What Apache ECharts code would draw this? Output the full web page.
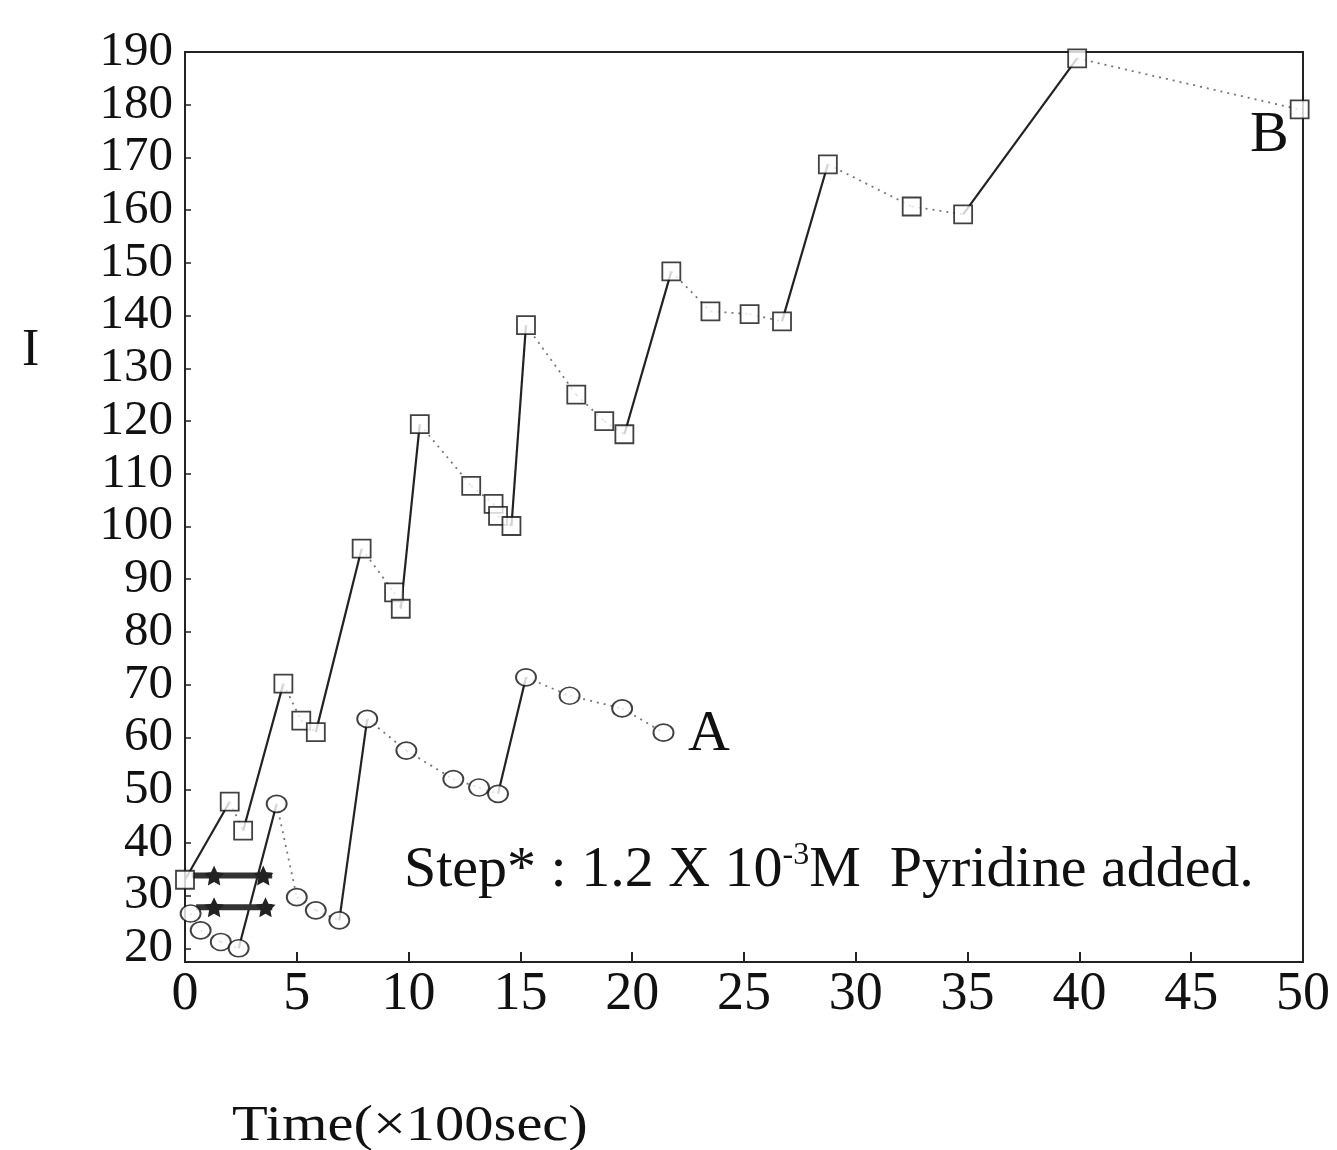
<!DOCTYPE html>
<html>
<head>
<meta charset="utf-8">
<script src="https://cdn.jsdelivr.net/npm/echarts@6/dist/echarts.min.js"></script>
<style>
  html, body { margin: 0; padding: 0; background: #fff; }
  #chart { width: 1337px; height: 1150px; }
</style>
</head>
<body>
<div id="chart"></div>
<script>
// curve B (squares)
var bX = [0, 2.0, 2.6, 4.4, 5.2, 5.85, 7.9, 9.35, 9.65, 10.5, 12.8, 13.8, 14.0, 14.6, 15.25,
  17.5, 18.75, 19.65, 21.75, 23.5, 25.25, 26.7, 28.75, 32.5, 34.8, 39.9, 49.85];
var bY = [33, 47.8, 42.3, 70.2, 63.2, 61, 95.8, 87.5, 84.4, 119.4, 107.7, 104.3, 102, 100.1, 138.2,
  125, 120, 117.5, 148.4, 140.8, 140.3, 138.9, 168.7, 160.7, 159.2, 188.8, 179.1];
// s = solid (after addition), d = dotted (decay)
var bSeg = ['s','d','s','d','d','s','d','d','s','d','d','d','d','s','d','d','d','s','d','d','d','s','d','d','s','d'];

// curve A (circles)
var aX = [0.25, 0.7, 1.6, 2.4, 4.1, 5.0, 5.85, 6.9, 8.15, 9.9, 12.0, 13.15, 14.0, 15.25, 17.2, 19.55, 21.4];
var aY = [26.6, 23.4, 21.2, 20, 47.4, 29.7, 27.2, 25.3, 63.5, 57.5, 52.1, 50.5, 49.3, 71.4, 67.9, 65.5, 60.9];
var aSeg = ['d','d','d','s','d','d','d','s','d','d','d','d','s','d','d','d'];

// step* marks
var stepUpX = [0.3, 1.3, 3.5, 3.9];
var stepUpY = [33.8, 33.8, 33.8, 33.8];
var stepLoX = [0.5, 1.3, 3.6, 3.9];
var stepLoY = [27.8, 27.8, 27.8, 27.8];
var stepStarIdx = [1, 2];

var xTicks = [0, 5, 10, 15, 20, 25, 30, 35, 40, 45, 50];
var yTicks = [20, 30, 40, 50, 60, 70, 80, 90, 100, 110, 120, 130, 140, 150, 160, 170, 180, 190];

var FONT = 'Liberation Serif';
var STAR = 'path://M0,-10 L2.9,-4 L9.5,-3.1 L4.7,1.5 L5.9,8.1 L0,5 L-5.9,8.1 L-4.7,1.5 L-9.5,-3.1 L-2.9,-4 Z';

function pairs(xs, ys) {
  var out = [];
  for (var i = 0; i < xs.length; i++) out.push([xs[i], ys[i]]);
  return out;
}

function segSeries(xs, ys, seg) {
  var list = [];
  for (var i = 0; i < seg.length; i++) {
    var solid = seg[i] === 's';
    list.push({
      type: 'line',
      data: [[xs[i], ys[i]], [xs[i + 1], ys[i + 1]]],
      symbol: 'none',
      silent: true,
      z: 2,
      lineStyle: solid
        ? { color: '#222', width: 2.2, type: 'solid' }
        : { color: '#777', width: 1.8, type: [2, 5] }
    });
  }
  return list;
}

var series = [];
series = series.concat(segSeries(bX, bY, bSeg));
series = series.concat(segSeries(aX, aY, aSeg));

// thick step lines, stars only on some points
[[stepUpX, stepUpY], [stepLoX, stepLoY]].forEach(function (s) {
  var pts = pairs(s[0], s[1]).map(function (p, i) {
    return stepStarIdx.indexOf(i) >= 0 ? { value: p } : { value: p, symbol: 'none' };
  });
  series.push({
    type: 'line',
    data: pts,
    symbol: STAR,
    symbolSize: 20,
    showSymbol: true,
    itemStyle: { color: '#222' },
    lineStyle: { color: '#333', width: 6 },
    z: 3,
    silent: true
  });
});

series.push({
  type: 'scatter',
  data: pairs(bX, bY),
  symbol: 'rect',
  symbolSize: 18,
  itemStyle: { color: '#fff', borderColor: '#111', borderWidth: 1.8 },
  z: 5
});
series.push({
  type: 'scatter',
  data: pairs(aX, aY),
  symbol: 'circle',
  symbolSize: [20, 17],
  itemStyle: { color: '#fff', borderColor: '#111', borderWidth: 1.8 },
  z: 5
});

var chart = echarts.init(document.getElementById('chart'), null, { renderer: 'canvas' });
chart.setOption({
  animation: false,
  backgroundColor: '#fff',
  grid: {
    left: 185, right: 34, top: 52, bottom: 188,
    show: true, borderColor: '#222', borderWidth: 2
  },
  xAxis: {
    type: 'value',
    min: 0, max: 50, interval: 5,
    axisLine: { show: true, lineStyle: { color: '#222', width: 2 } },
    axisTick: { show: true, inside: true, length: 10, lineStyle: { color: '#222', width: 2 } },
    axisLabel: { color: '#111', fontFamily: FONT, fontSize: 54, margin: 6 },
    splitLine: { show: false }
  },
  yAxis: {
    type: 'value',
    min: 17.4, max: 190,
    axisLine: { show: true, lineStyle: { color: '#222', width: 2 } },
    axisTick: { show: true, inside: true, length: 6, customValues: yTicks, lineStyle: { color: '#222', width: 1.5 } },
    axisLabel: { color: '#111', fontFamily: FONT, fontSize: 49, margin: 12, customValues: yTicks },
    splitLine: { show: false }
  },
  graphic: [
    { type: 'text', left: 22, top: 325, style: { text: 'I', font: '52px "Liberation Serif"', fill: '#111' } },
    { type: 'text', x: 232, y: 1102, scaleX: 1.17, style: { text: 'Time(×100sec)', font: '50px "Liberation Serif"', fill: '#111' } },
    { type: 'text', left: 688, top: 706, style: { text: 'A', font: '58px "Liberation Serif"', fill: '#111' } },
    { type: 'text', left: 1250, top: 107, style: { text: 'B', font: '58px "Liberation Serif"', fill: '#111' } },
    {
      type: 'text', left: 404, top: 836,
      style: {
        text: '{n|Step* : 1.2 X 10}{s|-3}{n|M  Pyridine added.}',
        fill: '#111',
        rich: {
          n: { fontFamily: FONT, fontSize: 58, lineHeight: 70, fill: '#111' },
          s: { fontFamily: FONT, fontSize: 32, lineHeight: 70, verticalAlign: 'top', padding: [4, 0, 0, 0], fill: '#111' }
        }
      }
    }
  ],
  series: series
});
</script>
</body>
</html>
